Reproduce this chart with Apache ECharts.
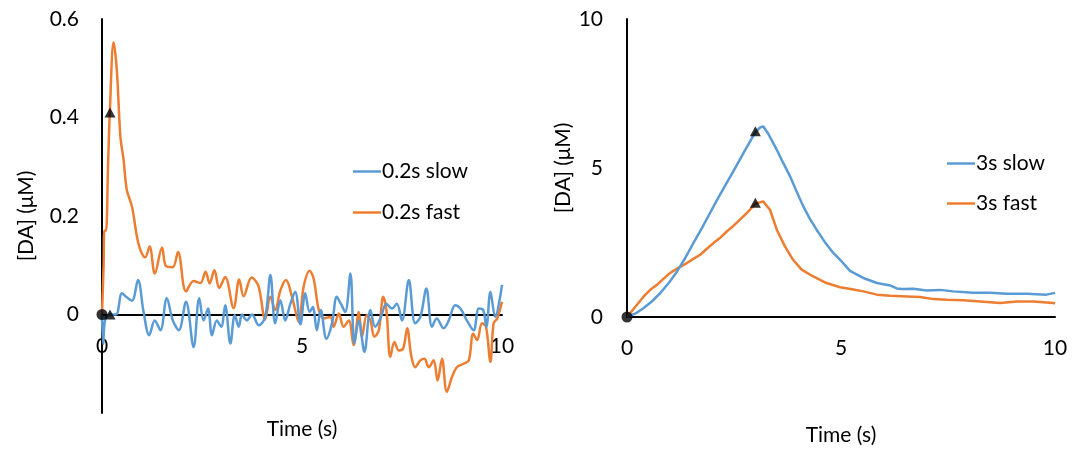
<!DOCTYPE html>
<html>
<head>
<meta charset="utf-8">
<script src="https://cdn.jsdelivr.net/npm/echarts@6/dist/echarts.min.js"></script>
<style>
html,body{margin:0;padding:0;background:#fff;}
#chart{width:1075px;height:451px;}
</style>
</head>
<body>
<div id="chart"></div>
<script>
// ---- Left panel (0.2 s stimulation) ----
const slow02T = [0,0.03,0.08,0.2,0.35,0.5,0.62,0.75,0.9,1.04,1.18,1.32,1.46,1.62,1.77,1.92,2.1,2.29,2.43,2.54,2.65,2.75,2.87,2.98,3.08,3.21,3.32,3.42,3.5,3.62,3.75,3.92,4.08,4.21,4.33,4.46,4.58,4.71,4.83,4.96,5.08,5.19,5.27,5.37,5.47,5.61,5.75,5.87,5.97,6.08,6.21,6.31,6.42,6.56,6.71,6.83,6.96,7.11,7.25,7.37,7.5,7.67,7.83,7.96,8.11,8.25,8.37,8.54,8.67,8.83,8.96,9.12,9.29,9.42,9.53,9.61,9.71,9.83,10];
const slow02V = [0,-0.06,-0.01,0,0,0.043,0.035,0.028,0.07,0.005,-0.042,-0.012,-0.032,0.033,-0.012,-0.032,0.026,-0.066,0.033,-0.012,0.012,-0.042,-0.012,-0.025,0.019,-0.059,-0.001,-0.025,0,-0.012,0,-0.022,-0.005,0.08,-0.018,0.029,-0.012,0.022,0.046,-0.02,0.043,0.005,0.015,-0.032,0.009,-0.049,-0.018,0.036,0.022,0.005,0.083,-0.059,-0.012,-0.076,0.009,-0.025,-0.008,0.022,0.012,0.022,-0.012,0.07,-0.018,-0.005,0.053,-0.025,-0.008,-0.028,-0.012,0.019,0.012,-0.012,-0.032,0.012,0.009,-0.025,0.046,-0.005,0.06];

const fast02T = [0,0.04,0.06,0.1,0.15,0.2,0.29,0.37,0.46,0.54,0.62,0.75,0.87,0.96,1.08,1.19,1.32,1.5,1.6,1.77,1.9,2.1,2.29,2.46,2.59,2.69,2.81,2.93,3.08,3.29,3.43,3.54,3.74,3.91,4.08,4.21,4.33,4.46,4.6,4.75,4.92,5.04,5.19,5.29,5.42,5.54,5.71,5.79,5.92,6.04,6.17,6.29,6.42,6.5,6.62,6.71,6.81,6.92,7.03,7.11,7.21,7.31,7.42,7.53,7.63,7.73,7.83,7.96,8.06,8.17,8.29,8.39,8.5,8.62,8.75,8.87,9.04,9.17,9.28,9.38,9.5,9.6,9.71,9.79,9.88,10];
const fast02V = [0,0.1,0.17,0.17,0.3,0.42,0.553,0.497,0.361,0.314,0.253,0.219,0.16,0.131,0.116,0.138,0.083,0.136,0.098,0.096,0.127,0.047,0.068,0.064,0.087,0.063,0.09,0.054,0.076,0.013,0.071,0.037,0.075,0.058,-0.01,0.036,0.009,0.049,0.07,0.036,-0.015,0.056,0.089,0.073,0.009,-0.008,-0.005,-0.025,0.002,-0.025,-0.012,-0.062,0.005,-0.045,-0.001,-0.012,-0.045,-0.032,0.036,0.009,-0.086,-0.056,-0.073,-0.069,-0.028,-0.083,-0.107,-0.093,-0.09,-0.107,-0.093,-0.134,-0.09,-0.157,-0.127,-0.107,-0.1,-0.093,-0.039,-0.052,-0.018,-0.025,-0.096,-0.018,-0.008,0.026];

const leftStartPt = [[0, 0]];
const leftEndPts = [[0.2, 0.41], [0.2, 0]];
const leftYTicks = [-0.2, 0, 0.2, 0.4, 0.6];

// ---- Right panel (3 s stimulation) ----
const slow3T = [0,0.2,0.39,0.58,0.78,0.98,1.17,1.36,1.55,1.75,1.94,2.13,2.33,2.52,2.72,2.86,3.0,3.1,3.18,3.3,3.5,3.65,3.81,3.96,4.12,4.27,4.43,4.62,4.82,4.98,5.21,5.52,5.84,6.15,6.3,6.42,6.69,7.0,7.31,7.62,8.09,8.48,8.87,9.34,9.8,10];
const slow3V = [0,0.12,0.3,0.52,0.81,1.15,1.53,1.98,2.48,2.98,3.49,4.0,4.5,4.98,5.5,5.85,6.2,6.35,6.4,6.15,5.61,5.17,4.72,4.22,3.71,3.3,2.93,2.52,2.15,1.92,1.55,1.31,1.14,1.06,0.96,0.94,0.95,0.89,0.91,0.86,0.81,0.81,0.78,0.78,0.75,0.81];

const fast3T = [0,0.2,0.39,0.55,0.7,0.85,1.01,1.2,1.4,1.55,1.71,1.86,2.02,2.17,2.33,2.48,2.64,2.82,3.0,3.18,3.34,3.5,3.69,3.88,4.08,4.35,4.66,4.98,5.29,5.52,5.84,6.15,6.54,6.85,7.16,7.47,7.86,8.25,8.72,9.11,9.49,9.96,10];
const fast3V = [0,0.35,0.69,0.92,1.08,1.28,1.48,1.65,1.81,1.95,2.09,2.28,2.48,2.65,2.87,3.05,3.27,3.52,3.8,3.88,3.6,2.93,2.37,1.92,1.59,1.36,1.14,1.0,0.92,0.86,0.75,0.71,0.69,0.67,0.6,0.58,0.56,0.52,0.47,0.52,0.52,0.47,0.45];

const rightStartPt = [[0, 0]];
const rightEndPts = [[3, 6.23], [3, 3.83]];

const BLUE = '#5B9BD5', ORANGE = '#ED7D31';
const FONT = 'Lato';
const FS = 21;
const pairs = (t, v) => t.map((x, i) => [x, v[i]]);

const chart = echarts.init(document.getElementById('chart'), null, {renderer: 'canvas'});

const axisLine = {show: true, onZero: false, lineStyle: {color: '#000', width: 2}};
const lbl = {color: '#000', fontSize: FS, fontFamily: FONT};
const nameStyle = {color: '#000', fontSize: FS, fontFamily: FONT};

// left grid geometry: y from -0.2 (bottom) to 0.6 (top); zero line sits 1/4 of height above the bottom
const LEFT_H = 394;
const LEFT_ZERO_OFFSET = -LEFT_H * (0 - leftYTicks[0]) / (leftYTicks[leftYTicks.length - 1] - leftYTicks[0]);

function xAxisCfg(grid, gap, offset) {
  return {
    type: 'value', gridIndex: grid, min: 0, max: 10, interval: 5, offset: offset,
    axisLine: axisLine, axisTick: {show: false}, splitLine: {show: false},
    axisLabel: Object.assign({margin: 21}, lbl),
    name: 'Time (s)', nameLocation: 'middle', nameGap: gap,
    nameTextStyle: nameStyle
  };
}

function legendCfg(names, left, top, gap) {
  return {
    data: names, orient: 'vertical', left: left, top: top, padding: 0,
    icon: 'rect', itemWidth: 28, itemHeight: 2.5, itemGap: gap,
    textStyle: {color: '#000', fontSize: FS, fontFamily: FONT, padding: [0, 0, 0, -4]}
  };
}

const option = {
  animation: false,
  backgroundColor: '#fff',
  grid: [
    {left: 102, top: 19, width: 400, height: LEFT_H, outerBoundsMode: 'none', containLabel: false},
    {left: 627, top: 19, width: 428, height: 298, outerBoundsMode: 'none', containLabel: false}
  ],
  xAxis: [xAxisCfg(0, 104, LEFT_ZERO_OFFSET), xAxisCfg(1, 108, 0)],
  yAxis: [
    {
      type: 'value', gridIndex: 0, min: leftYTicks[0], max: leftYTicks[leftYTicks.length - 1], interval: 0.2,
      axisLine: axisLine, axisTick: {show: false}, splitLine: {show: false},
      axisLabel: Object.assign({margin: 23, formatter: v => (v < -0.01 ? '' : String(Math.round(v * 10) / 10))}, lbl),
      name: '[DA] (μM)', nameLocation: 'middle', nameGap: 65, nameTextStyle: nameStyle
    },
    {
      type: 'value', gridIndex: 1, min: 0, max: 10, interval: 5,
      axisLine: axisLine, axisTick: {show: false}, splitLine: {show: false},
      axisLabel: Object.assign({margin: 24}, lbl),
      name: '[DA] (μM)', nameLocation: 'middle', nameGap: 53, nameTextStyle: nameStyle
    }
  ],
  legend: [
    legendCfg(['0.2s slow', '0.2s fast'], 353, 161, 20),
    legendCfg(['3s slow', '3s fast'], 947, 153, 19)
  ],
  series: [
    {name: '0.2s slow', type: 'line', xAxisIndex: 0, yAxisIndex: 0, data: pairs(slow02T, slow02V),
     showSymbol: false, symbol: 'none', smooth: 0.35, lineStyle: {color: BLUE, width: 2.5}, itemStyle: {color: BLUE}, z: 3},
    {name: '0.2s fast', type: 'line', xAxisIndex: 0, yAxisIndex: 0, data: pairs(fast02T, fast02V),
     showSymbol: false, symbol: 'none', smooth: 0.35, lineStyle: {color: ORANGE, width: 2.5}, itemStyle: {color: ORANGE}, z: 2},
    {name: '3s slow', type: 'line', xAxisIndex: 1, yAxisIndex: 1, data: pairs(slow3T, slow3V),
     showSymbol: false, symbol: 'none', lineStyle: {color: BLUE, width: 2.5}, itemStyle: {color: BLUE}, z: 3},
    {name: '3s fast', type: 'line', xAxisIndex: 1, yAxisIndex: 1, data: pairs(fast3T, fast3V),
     showSymbol: false, symbol: 'none', lineStyle: {color: ORANGE, width: 2.5}, itemStyle: {color: ORANGE}, z: 2},
    {type: 'scatter', xAxisIndex: 0, yAxisIndex: 0, data: leftStartPt, symbol: 'circle', symbolSize: 11, itemStyle: {color: '#000'}, z: 10},
    {type: 'scatter', xAxisIndex: 0, yAxisIndex: 0, data: leftEndPts, symbol: 'triangle', symbolSize: [11, 10], itemStyle: {color: '#000'}, z: 10},
    {type: 'scatter', xAxisIndex: 1, yAxisIndex: 1, data: rightStartPt, symbol: 'circle', symbolSize: 11, itemStyle: {color: '#000'}, z: 10},
    {type: 'scatter', xAxisIndex: 1, yAxisIndex: 1, data: rightEndPts, symbol: 'triangle', symbolSize: [11, 10], itemStyle: {color: '#000'}, z: 10}
  ]
};
chart.setOption(option);
</script>
</body>
</html>
